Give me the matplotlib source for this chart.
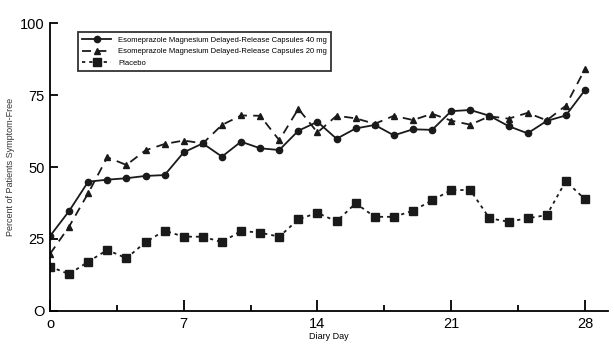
import matplotlib
matplotlib.use('Agg')
import matplotlib.pyplot as plt
from matplotlib.ticker import MultipleLocator

plt.rcParams['font.family'] = ['Liberation Sans', 'DejaVu Sans']

#%% data
days = list(range(29))
esome_40 = [26.0, 34.7, 44.9, 45.6, 46.1, 46.9, 47.2, 55.1, 58.2, 53.6,
            58.8, 56.5, 55.9, 62.6, 65.7, 59.8, 63.4, 64.6, 61.0, 63.1,
            62.9, 69.4, 69.8, 67.8, 64.2, 61.7, 66.0, 67.9, 76.7]
esome_20 = [19.8, 29.3, 40.9, 53.4, 50.7, 55.8, 58.0, 59.2, 58.2, 64.6,
            67.9, 67.8, 59.3, 70.2, 62.0, 67.8, 66.9, 65.0, 67.8, 66.3,
            68.5, 66.1, 64.7, 67.6, 66.8, 68.8, 66.2, 71.3, 84.0]
placebo = [15.4, 12.8, 17.1, 21.2, 18.3, 23.9, 27.9, 25.8, 25.8, 23.9,
           27.8, 27.2, 25.8, 31.8, 34.1, 31.1, 37.4, 32.7, 32.7, 34.8,
           38.4, 42.0, 42.0, 32.2, 31.0, 32.2, 33.3, 45.1, 38.8]
labels = ['Esomeprazole Magnesium Delayed-Release Capsules 40 mg',
          'Esomeprazole Magnesium Delayed-Release Capsules 20 mg',
          'Placebo']

#%% plot
fig = plt.figure(figsize=(6.14, 3.44), dpi=100)
ax = fig.add_axes([0.0814, 0.096, 0.9086, 0.837])

c = '#1a1a1a'
ax.plot(days, esome_40, '-', color=c, lw=1.3, marker='o', ms=4.5, label=labels[0])
ax.plot(days, esome_20, color=c, lw=1.3, ls=(0, (5, 3.5)), marker='^', ms=5, label=labels[1])
ax.plot(days, placebo, color=c, lw=1.3, ls=(0, (1.8, 2.2)), marker='s', ms=6.3, label=labels[2])

ax.set_xlim(0, 29.2)
ax.set_ylim(0, 100)
ax.spines['top'].set_visible(False)
ax.spines['right'].set_visible(False)
ax.spines['left'].set_linewidth(1.3)
ax.spines['bottom'].set_linewidth(1.3)

ax.set_xticks([0, 7, 14, 21, 28])
ax.set_xticklabels(['o', '7', '14', '21', '28'], fontsize=10.5)
ax.xaxis.set_minor_locator(MultipleLocator(3.5))
ax.set_yticks([0, 25, 50, 75, 100])
ax.set_yticklabels(['O', '25', '50', '75', '100'], fontsize=10.5)
ax.tick_params(axis='x', which='major', direction='in', length=8, width=1.3, pad=4)
ax.tick_params(axis='x', which='minor', direction='in', length=4.5, width=1.3)
ax.tick_params(axis='y', which='major', direction='in', length=6, width=1.3, pad=4)

ax.set_xlabel('Diary Day', fontsize=6.5, labelpad=1)
ax.set_ylabel('Percent of Patients Symptom-Free', fontsize=6.5, color='#333333')
ax.yaxis.set_label_coords(-0.063, 0.5)

leg = ax.legend(loc='upper left', bbox_to_anchor=(0.05, 0.968), fontsize=5.5,
                handlelength=3.8, frameon=True, fancybox=False, borderpad=0.55,
                labelspacing=0.55, handletextpad=0.9, borderaxespad=0)
leg.get_frame().set_edgecolor('black')
leg.get_frame().set_linewidth(1.3)

fig.savefig('out.png', dpi=100)
